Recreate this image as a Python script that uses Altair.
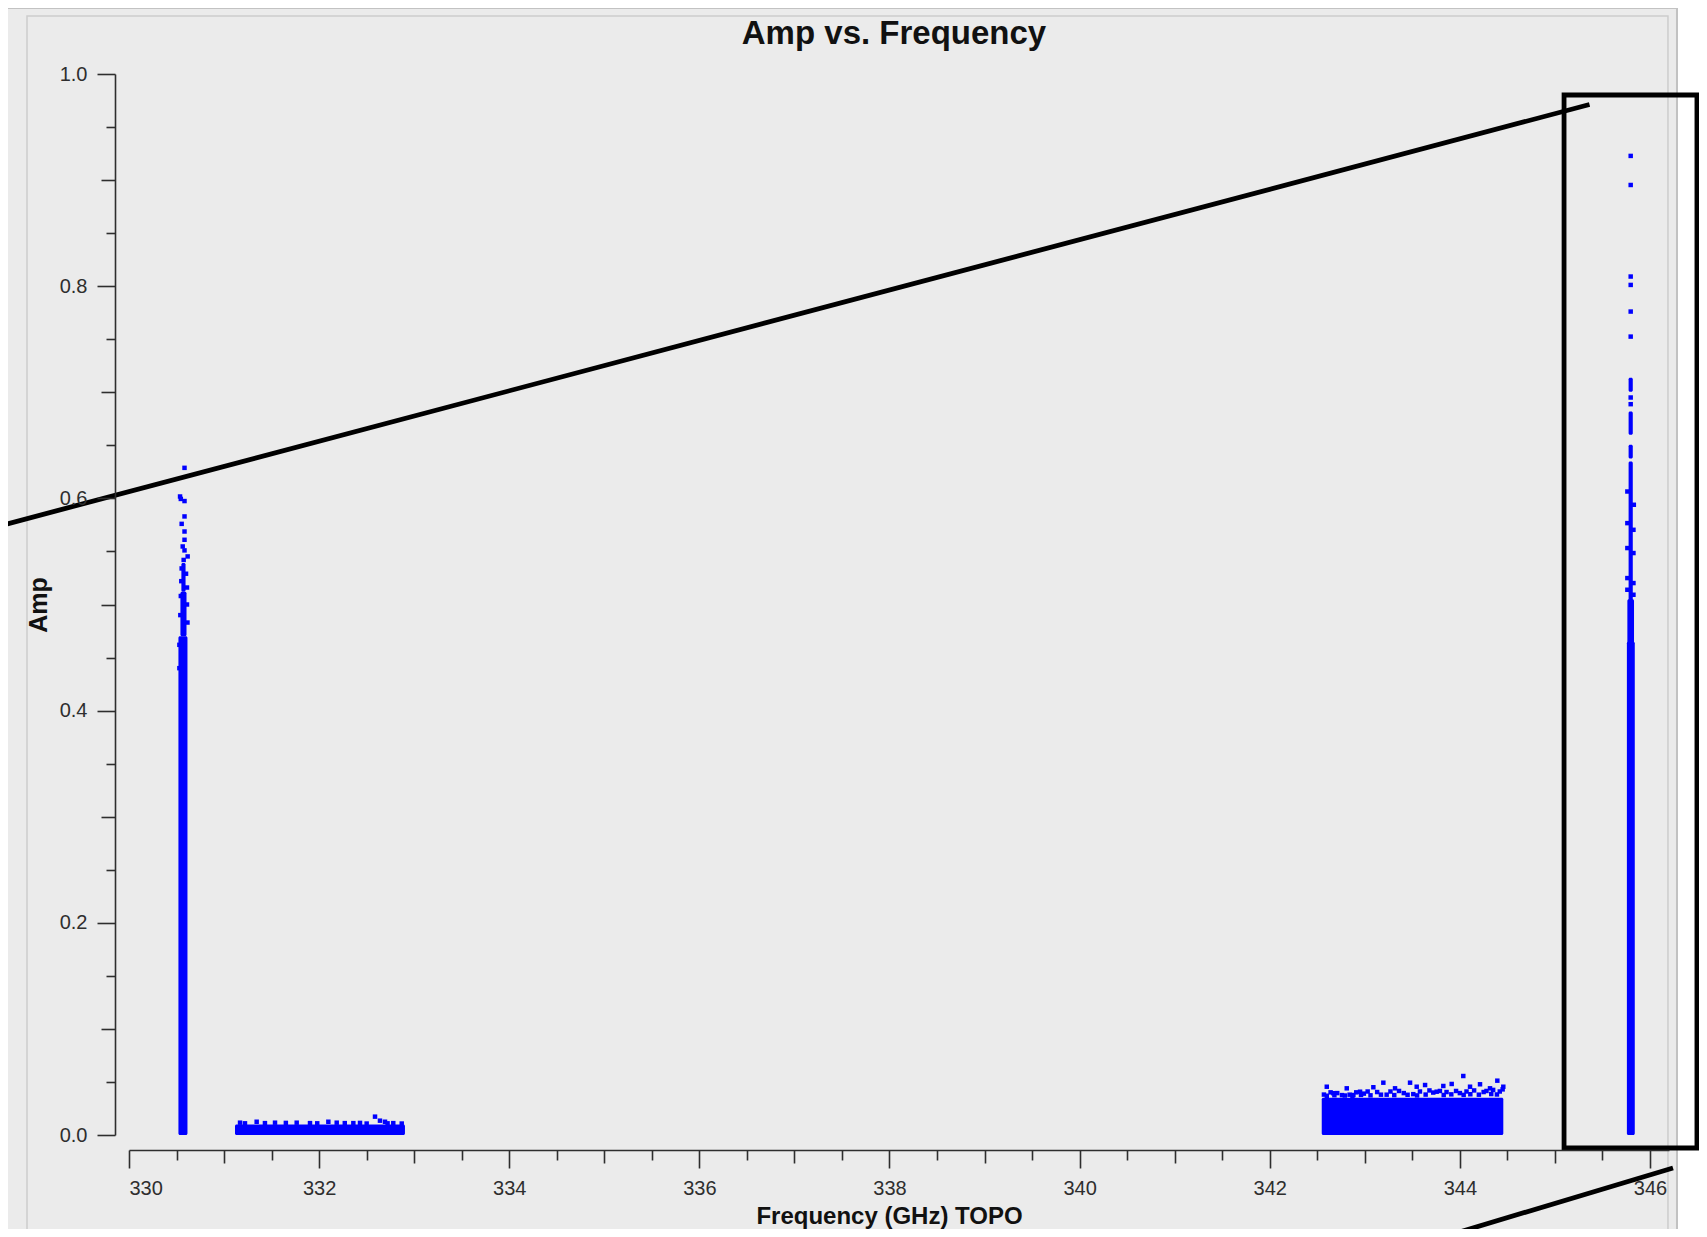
import altair as alt
import pandas as pd

# ---------------- axis tick values ----------------
x_major = [330, 332, 334, 336, 338, 340, 342, 344, 346]
x_mid = [331, 333, 335, 337, 339, 341, 343, 345]
x_minor = [330.5, 331.5, 332.5, 333.5, 334.5, 335.5, 336.5, 337.5,
           338.5, 339.5, 340.5, 341.5, 342.5, 343.5, 344.5, 345.5]
y_major = [0.0, 0.2, 0.4, 0.6, 0.8, 1.0]
y_mid = [0.1, 0.3, 0.5, 0.7, 0.9]
y_minor = [0.05, 0.15, 0.25, 0.35, 0.45, 0.55, 0.65, 0.75, 0.85, 0.95]

# ---------------- dense cores of the four spectral windows ----------------
core_f_lo = [330.52, 331.115, 342.547, 345.757]
core_f_hi = [330.615, 332.903, 344.457, 345.84]
core_a_lo = [0.0, 0.0, 0.0, 0.0]
core_a_hi = [0.47, 0.0100, 0.035, 0.465]

# narrower continuous runs of points above the cores
run_f_lo = [330.541, 330.551, 345.775, 345.775, 345.775, 345.775, 345.762]
run_f_hi = [330.605, 330.595, 345.819, 345.819, 345.819, 345.819, 345.832]
run_a_lo = [0.47, 0.512, 0.46, 0.6375, 0.6599, 0.7005, 0.46]
run_a_hi = [0.512, 0.539, 0.6348, 0.6505, 0.6819, 0.7136, 0.505]

# individual visible points (frequency GHz, amplitude)
pt_freq = [
    # spw near 330.57 GHz
    330.584, 330.537, 330.545, 330.584, 330.584, 330.554, 330.584, 330.584,
    330.565, 330.584, 330.617, 330.575, 330.554, 330.600, 330.550, 330.610,
    330.545, 330.610, 330.540, 330.615, 330.530, 330.530,
    # spw 331.1 - 332.9 GHz fringe
    331.168, 331.220, 331.343, 331.430, 331.536, 331.650, 331.764, 331.904,
    331.980, 332.097, 332.185, 332.270, 332.360, 332.430, 332.500, 332.588,
    332.640, 332.693, 332.720, 332.780, 332.869,
    # spw 342.5 - 344.5 GHz fringe
    344.036, 344.394, 343.195, 344.212, 342.600, 343.476, 343.634, 343.826,
    343.914, 342.810, 342.950, 343.090, 343.318, 343.546, 344.107, 344.317,
    342.669, 342.880, 343.756, 344.457,
    342.57, 342.64, 342.71, 342.76, 342.84, 342.91, 342.99, 343.03, 343.13,
    343.23, 343.27, 343.36, 343.41, 343.51, 343.58, 343.68, 343.72, 343.79,
    343.86, 343.96, 344.00, 344.07, 344.15, 344.25, 344.28, 344.35, 344.42,
    344.45,
    342.60, 342.68, 342.79, 342.87, 342.96, 343.06, 343.17, 343.31, 343.45,
    343.55, 343.64, 343.83, 343.91, 344.04, 344.11, 344.20, 344.33, 344.39,
    # spw near 345.80 GHz
    345.797, 345.797, 345.797, 345.797, 345.797, 345.797, 345.797, 345.797,
    345.762, 345.830, 345.762, 345.826, 345.762, 345.826, 345.762, 345.826,
    345.762, 345.826,
]
pt_amp = [
    0.6288, 0.6018, 0.5995, 0.5975, 0.5830, 0.5760, 0.5688, 0.5610,
    0.5547, 0.5510, 0.5453, 0.5420, 0.5340, 0.5290, 0.5220, 0.5160,
    0.5080, 0.5000, 0.4900, 0.4830, 0.4620, 0.4400,
    0.0116, 0.0110, 0.0125, 0.0112, 0.0116, 0.0114, 0.0116, 0.0112,
    0.0110, 0.0125, 0.0116, 0.0112, 0.0112, 0.0114, 0.0108, 0.0173,
    0.0135, 0.0125, 0.0110, 0.0112, 0.0108,
    0.0556, 0.0512, 0.0493, 0.0478, 0.0455, 0.0493, 0.0471, 0.0462,
    0.0481, 0.0440, 0.0408, 0.0450, 0.0440, 0.0455, 0.0455, 0.0440,
    0.0394, 0.0377, 0.0408, 0.0455,
    0.0381, 0.0402, 0.0395, 0.0376, 0.0380, 0.0402, 0.0390, 0.0410, 0.0405,
    0.0380, 0.0410, 0.0415, 0.0395, 0.0385, 0.0410, 0.0420, 0.0400, 0.0415,
    0.0405, 0.0415, 0.0395, 0.0410, 0.0420, 0.0405, 0.0415, 0.0425, 0.0410,
    0.0430,
    0.0370, 0.0375, 0.0372, 0.0368, 0.0378, 0.0374, 0.0380, 0.0376, 0.0379,
    0.0373, 0.0381, 0.0377, 0.0383, 0.0378, 0.0384, 0.0380, 0.0386, 0.0382,
    0.9228, 0.8954, 0.8091, 0.8012, 0.7761, 0.7525, 0.6951, 0.6888,
    0.6065, 0.5940, 0.5767, 0.5704, 0.5532, 0.5485, 0.5249, 0.5202,
    0.5139, 0.5092,
]

# ---------------- screenshot panel and black annotations (data units) ----------------
panel_f = [328.60, 346.284]
panel_a = [-0.0895, 1.0622]
inner_f = [328.927, 346.189]
inner_a = [-0.0895, 1.0547]
box_f = [345.096, 346.494]
box_a = [-0.01225, 0.9802]
ann_f1 = [328.643, 343.823]
ann_a1 = [0.5742, -0.0961]
ann_f2 = [345.364, 346.242]
ann_a2 = [0.97125, -0.0311]

FONT = "Liberation Sans"
AX = "#2e2e2e"
BLUE = "#0000ff"

xs = alt.Scale(domain=[330, 346.2], nice=False, zero=False)
ys = alt.Scale(domain=[0, 1], nice=False, zero=False)


def rect_layer(f_lo, f_hi, a_lo, a_hi, **mark):
    df = pd.DataFrame({"f": f_lo, "f2": f_hi, "a": a_lo, "a2": a_hi})
    return alt.Chart(df).mark_rect(**mark).encode(
        x=alt.X("f:Q", scale=xs, axis=None),
        x2="f2:Q",
        y=alt.Y("a:Q", scale=ys, axis=None),
        y2="a2:Q",
    )


panel = rect_layer([panel_f[0]], [panel_f[1]], [panel_a[0]], [panel_a[1]],
                   fill="#ebebeb", stroke="#c2c2c2", strokeWidth=2)
inner = rect_layer([inner_f[0]], [inner_f[1]], [inner_a[0]], [inner_a[1]],
                   fillOpacity=0, stroke="#cdcdcd", strokeWidth=1.5)

cores = rect_layer(core_f_lo, core_f_hi, core_a_lo, core_a_hi,
                   color=BLUE, cornerRadius=1.5)
runs = rect_layer(run_f_lo, run_f_hi, run_a_lo, run_a_hi,
                  color=BLUE, cornerRadius=1.5)

points = alt.Chart(pd.DataFrame({"f": pt_freq, "a": pt_amp})).mark_square(
    size=20, color=BLUE, opacity=1
).encode(
    x=alt.X("f:Q", scale=xs, axis=None),
    y=alt.Y("a:Q", scale=ys, axis=None),
)


def x_axis_layer(values, size, main):
    kw = dict(orient="bottom", values=values, tickSize=size, tickWidth=1.6,
              tickColor=AX, grid=False, offset=15, zindex=2)
    if main:
        kw.update(domain=True, domainColor=AX, domainWidth=1.6, format="d",
                  labelFont=FONT, labelFontSize=20, labelColor=AX, labelPadding=10,
                  title="Frequency (GHz) TOPO", titleFont=FONT, titleFontSize=24,
                  titleFontWeight="bold", titleColor="#111111", titlePadding=6,
                  titleX=760)
    else:
        kw.update(domain=False, labels=False, title=None)
    return alt.Chart(pd.DataFrame({"v": values})).mark_point(opacity=0).encode(
        x=alt.X("v:Q", scale=xs, axis=alt.Axis(**kw)),
        y=alt.value(0),
    )


def y_axis_layer(values, size, main):
    kw = dict(orient="left", values=values, tickSize=size, tickWidth=1.6,
              tickColor=AX, grid=False, offset=14, zindex=2)
    if main:
        kw.update(domain=True, domainColor=AX, domainWidth=1.6, format=".1f",
                  labelFont=FONT, labelFontSize=20, labelColor=AX, labelPadding=10,
                  title="Amp", titleFont=FONT, titleFontSize=25,
                  titleFontWeight="bold", titleColor="#111111", titlePadding=8)
    else:
        kw.update(domain=False, labels=False, title=None)
    return alt.Chart(pd.DataFrame({"v": values})).mark_point(opacity=0).encode(
        y=alt.Y("v:Q", scale=ys, axis=alt.Axis(**kw)),
        x=alt.value(0),
    )


box = rect_layer([box_f[0]], [box_f[1]], [box_a[0]], [box_a[1]],
                 fillOpacity=0, stroke="black", strokeWidth=4.8)

ann_df = pd.DataFrame({"f": ann_f1, "a": ann_a1, "f2": ann_f2, "a2": ann_a2})
ann_lines = alt.Chart(ann_df).mark_rule(color="black", strokeWidth=4.8).encode(
    x=alt.X("f:Q", scale=xs, axis=None),
    y=alt.Y("a:Q", scale=ys, axis=None),
    x2="f2:Q",
    y2="a2:Q",
)

chart = alt.layer(
    panel, inner, cores, runs, points,
    x_axis_layer(x_major, 18, True),
    x_axis_layer(x_mid, 13, False),
    x_axis_layer(x_minor, 10, False),
    y_axis_layer(y_major, 18, True),
    y_axis_layer(y_mid, 14, False),
    y_axis_layer(y_minor, 9, False),
    box, ann_lines,
).resolve_axis(
    x="independent", y="independent"
).properties(
    width=1540,
    height=1061,
    padding={"left": 121, "top": 66, "right": 30, "bottom": 94},
    autosize=alt.AutoSizeParams(type="none"),
    background="white",
    title=alt.TitleParams(
        "Amp vs. Frequency", font=FONT, fontSize=33, fontWeight="bold",
        color="#111111", anchor="middle", frame="group", baseline="alphabetic",
        offset=-70, dx=-5,
    ),
).configure_view(stroke=None)

chart.save("out.html", embed_options={"renderer": "svg", "actions": False})
